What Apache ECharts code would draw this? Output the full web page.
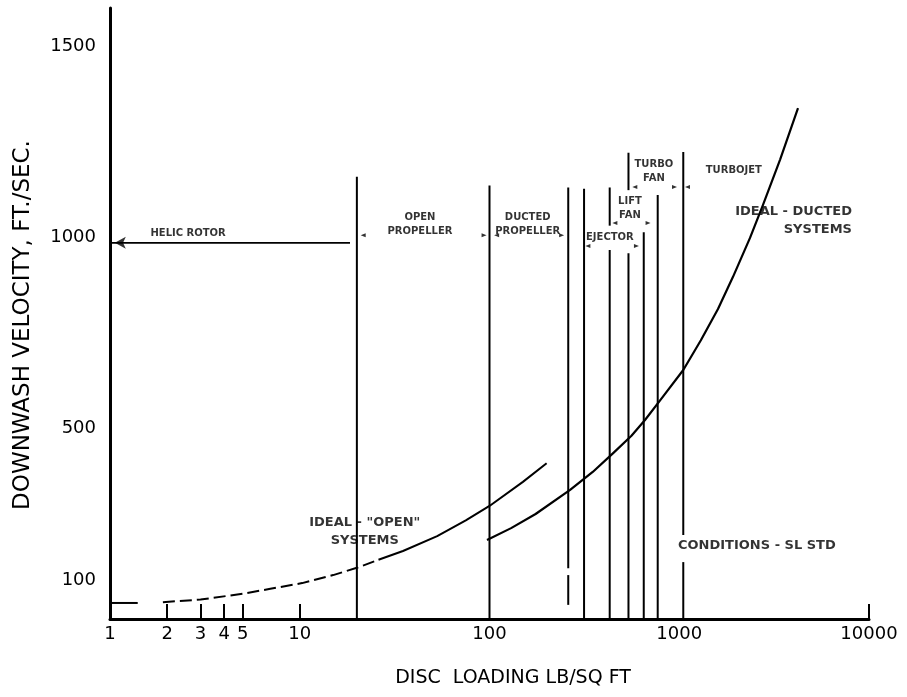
<!DOCTYPE html>
<html><head><meta charset="utf-8">
<script src="https://cdn.jsdelivr.net/npm/echarts@6.0.0/dist/echarts.min.js"></script>
<style>html,body{margin:0;padding:0;background:#fff}#c{width:907px;height:697px}</style>
</head><body><div id="c"></div>
<script>
// ---- axis ticks / labels ----
const xTickLabels = [1, 2, 3, 4, 5, 10, 100, 1000, 10000];
const xMinorTicks = [2, 3, 4, 5, 10, 10000];
const yTickLabels = [100, 500, 1000, 1500];

// ---- ideal "open" systems curve (disc loading, downwash velocity) ----
const openStartX = [1, 1.4];
const openStartY = [42, 42];
const openDashX = [1.9, 3, 5, 7, 10.3, 15, 20, 26];
const openDashY = [44, 51, 66, 79, 94, 115, 134, 155];
const openSolidX = [26, 35, 53, 75, 100, 150, 200];
const openSolidY = [155, 178, 217, 258, 296, 359, 408];

// ---- ideal ducted systems curve ----
const ductX = [97, 130, 175, 266, 350, 450, 560, 660, 800, 1050, 1300, 1600, 1920, 2360, 2760, 3400, 4225];
const ductY = [207, 238, 275, 338, 385, 435, 480, 521, 575, 652, 730, 812, 896, 998, 1084, 1203, 1338];

// ---- boundary lines between systems (x, bottom, top) ----
const boundX   = [20, 100, 260, 260, 315, 430, 430, 540, 540, 650, 770, 1050, 1050];
const boundBot = [0, 0, 37, 133, 0, 0, 1030, 0, 1123, 0, 0, 0, 220];
const boundTop = [1158, 1135, 115, 1130, 1127, 966, 1130, 958, 1221, 1013, 1110, 149, 1223];

// ---- helicopter rotor arrow ----
const heliArrowX = [1, 18.4];
const heliArrowY = [985, 985];

// ---- small dimension arrow marks ----
const markX   = [21.6, 93.6, 109, 240, 330, 595, 458, 685, 583, 944, 1105];
const markY   = [1005, 1005, 1005, 1005, 977, 977, 1037, 1037, 1131, 1131, 1131];
const markDir = ['L', 'R', 'L', 'R', 'L', 'R', 'L', 'R', 'L', 'R', 'L'];

// ---- annotation texts ----
const sectionText = ['HELIC ROTOR', 'OPEN\nPROPELLER', 'DUCTED\nPROPELLER', 'EJECTOR', 'LIFT\nFAN', 'TURBO\nFAN', 'TURBOJET'];
const sectionX = [2.58, 43, 159, 431, 550, 735, 1940];
const sectionY = [1011, 1032, 1032, 1000, 1076, 1173, 1176];

const noteText = ['IDEAL - DUCTED\nSYSTEMS', 'IDEAL - "OPEN"\nSYSTEMS', 'CONDITIONS - SL STD'];
const noteX = [8130, 22, 985];
const noteY = [1042, 228, 191];
const notePos = ['left', 'inside', 'right'];

const FONT = 'DejaVu Sans';
const zip = (a, b) => a.map((v, i) => [v, b[i]]);

const series = [];
const lineBase = { type: 'line', symbol: 'none', silent: true, animation: false, clip: false, smooth: false };

series.push(Object.assign({}, lineBase, { data: zip(openStartX, openStartY), lineStyle: { color: '#000', width: 2 } }));
series.push(Object.assign({}, lineBase, { data: zip(openDashX, openDashY), lineStyle: { color: '#000', width: 2, type: [12, 5], join: 'round' } }));
series.push(Object.assign({}, lineBase, { data: zip(openSolidX, openSolidY), lineStyle: { color: '#000', width: 2, join: 'round' } }));
series.push(Object.assign({}, lineBase, { data: zip(ductX, ductY), lineStyle: { color: '#000', width: 2.2, join: 'round' } }));

boundX.forEach((x, i) => {
  series.push(Object.assign({}, lineBase, {
    data: [[x, boundBot[i]], [x, boundTop[i]]],
    lineStyle: { color: '#000', width: 2 }
  }));
});

series.push(Object.assign({}, lineBase, { data: zip(heliArrowX, heliArrowY), lineStyle: { color: '#000', width: 1.8 } }));
series.push({
  type: 'scatter', silent: true, animation: false, clip: false,
  data: [{ value: [1.06, heliArrowY[0]], symbol: 'arrow', symbolRotate: 90, symbolSize: [9, 11] }],
  itemStyle: { color: '#000' }
});

series.push({
  type: 'scatter', silent: true, animation: false, clip: false,
  symbol: 'triangle', symbolSize: [4, 5],
  data: markX.map((x, i) => ({ value: [x, markY[i]], symbolRotate: markDir[i] === 'L' ? 90 : -90 })),
  itemStyle: { color: '#000' }
});

series.push({
  type: 'scatter', silent: true, animation: false, clip: false,
  symbolSize: 0,
  data: sectionText.map((t, i) => ({ value: [sectionX[i], sectionY[i]], name: t })),
  label: {
    show: true, position: 'inside', formatter: p => p.name,
    color: '#000', fontSize: 10, fontWeight: 'bold', fontFamily: FONT, lineHeight: 14, align: 'center'
  }
});

series.push({
  type: 'scatter', silent: true, animation: false, clip: false,
  symbolSize: 0,
  data: noteText.map((t, i) => ({
    value: [noteX[i], noteY[i]], name: t,
    label: {
      show: true, formatter: p => p.name, color: '#000', fontSize: 13, fontWeight: 'bold',
      fontFamily: FONT, lineHeight: 18, position: notePos[i], distance: 0,
      align: notePos[i] === 'left' ? 'right' : (notePos[i] === 'right' ? 'left' : 'center')
    }
  })),
  label: { show: true, color: '#000' }
});

const chart = echarts.init(document.getElementById('c'), null, { renderer: 'canvas' });
chart.setOption({
  animation: false,
  backgroundColor: '#fff',
  grid: { left: 110, right: 38, top: 8, bottom: 78, containLabel: false },
  xAxis: {
    type: 'log', logBase: 10, min: 1, max: 10000,
    name: 'DISC  LOADING LB/SQ FT', nameLocation: 'middle', nameGap: 50,
    nameTextStyle: { color: '#000', fontSize: 19, fontFamily: FONT, padding: [0, 0, 0, 47] },
    axisLine: { lineStyle: { color: '#000', width: 3 } },
    axisTick: { show: true, inside: true, length: 15, customValues: xMinorTicks, lineStyle: { color: '#000', width: 2 } },
    axisLabel: { customValues: xTickLabels, formatter: v => String(Math.round(v)), color: '#000', fontSize: 18, fontFamily: FONT, margin: 6 },
    splitLine: { show: false },
    minorTick: { show: false }, minorSplitLine: { show: false }
  },
  yAxis: {
    type: 'value', min: 0, max: 1600, interval: 100,
    name: 'DOWNWASH VELOCITY, FT./SEC.', nameLocation: 'middle', nameGap: 75,
    nameTextStyle: { color: '#000', fontSize: 23, fontFamily: FONT, padding: [0, 23, 0, 0] },
    axisLine: { show: true, lineStyle: { color: '#000', width: 3 } },
    axisTick: { show: false },
    axisLabel: { customValues: yTickLabels, formatter: v => String(Math.round(v)), color: '#000', fontSize: 18, fontFamily: FONT, margin: 14 },
    splitLine: { show: false }
  },
  series: series
});
</script>
</body></html>
